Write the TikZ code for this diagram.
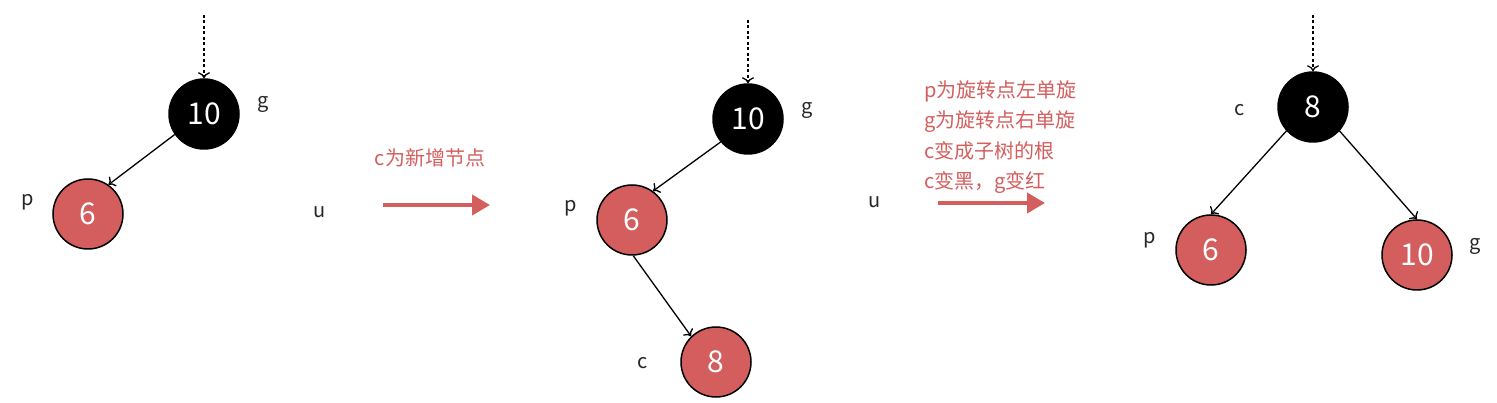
\documentclass[tikz,border=0pt]{standalone}
\usepackage{fontspec}
\setmainfont{Noto Sans CJK SC}
\usetikzlibrary{arrows.meta}
\definecolor{rbred}{RGB}{212,94,94}
\tikzset{
  blacknode/.style={circle,draw=black,fill=black,line width=1.5pt,minimum size=70pt,inner sep=0pt,text=white,font=\fontsize{30}{34}\selectfont},
  rednode/.style={circle,draw=black,fill=rbred,line width=1.5pt,minimum size=70pt,inner sep=0pt,text=white,font=\fontsize{30}{34}\selectfont},
  lbl/.style={font=\fontsize{20}{24}\selectfont,text=black!85,inner sep=0pt},
  edge/.style={line width=1.3pt,-{To[length=6pt,width=12pt]}},
  dashedge/.style={line width=1.3pt,dashed,dash pattern=on 3pt off 2.5pt,-{To[length=6pt,width=12pt]}},
  bigarrow/.style={draw=rbred,line width=4pt,-{Triangle[length=18pt,width=20pt]}},
  redtext/.style={text=rbred,font=\fontsize{20}{30.5}\selectfont,align=left,inner sep=0pt}
}
\begin{document}
\begin{tikzpicture}[x=1pt,y=-1pt]
\useasboundingbox (0,0) rectangle (1497,403);
% tree 1
\node[blacknode] (g1) at (204,114) {10};
\node[rednode] (p1) at (88,214) {6};
\coordinate (t1) at (204,15);
\draw[dashedge] (t1) -- (g1.north);
\draw[edge] (g1.215) -- (p1.55);
\node[lbl] (lg1) at (263,104) {g};
\node[lbl] (lp1) at (28,202) {p};
\node[lbl] (lu1) at (320,212) {u};
\coordinate (a1s) at (383,205);
\coordinate (a1e) at (490,205);
\draw[bigarrow] (a1s) -- (a1e);
\node[redtext] (txt1) at (430,158) {c为新增节点};
% tree 2
\node[blacknode] (g2) at (748,119) {10};
\node[rednode] (p2) at (632,220) {6};
\node[rednode] (c2) at (716,362) {8};
\coordinate (t2) at (748,20);
\draw[dashedge] (t2) -- (g2.north);
\draw[edge] (g2.220) -- (p2.54);
\draw[edge] (p2.-88) -- (c2.134);
\node[lbl] (lg2) at (807,110) {g};
\node[lbl] (lp2) at (571,208) {p};
\node[lbl] (lc2) at (643,363) {c};
\node[lbl] (lu2) at (875,202) {u};
\coordinate (a2s) at (938,203);
\coordinate (a2e) at (1045,203);
\draw[bigarrow] (a2s) -- (a2e);
\node[redtext,anchor=west] (txt2) at (924,137) {p为旋转点左单旋\\g为旋转点右单旋\\c变成子树的根\\c变黑，g变红};
% tree 3
\node[blacknode] (c3) at (1313,107) {8};
\node[rednode] (p3) at (1211,250) {6};
\node[rednode] (g3) at (1417,255) {10};
\coordinate (t3) at (1313,15);
\draw[dashedge] (t3) -- (c3.north);
\draw[edge] (c3.222) -- (p3.north);
\draw[edge] (c3.-42) -- (g3.north);
\node[lbl] (lc3) at (1240,110) {c};
\node[lbl] (lp3) at (1150,240) {p};
\node[lbl] (lg3) at (1475,246) {g};
\end{tikzpicture}
\end{document}
